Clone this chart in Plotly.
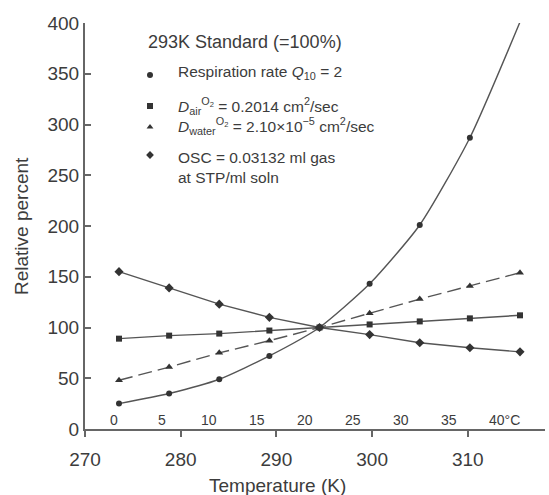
import plotly.graph_objects as go

# ---- data ----
temp_c = [0, 5, 10, 15, 20, 25, 30, 35, 40]          # °C
respiration = [25, 35, 49, 72, 100, 143, 201, 287, 401]
d_air = [89, 92, 94, 97, 100, 103, 106, 109, 112]
d_water = [48, 61, 75, 87, 100, 114, 128, 141, 154]
osc = [155, 139, 123, 110, 100, 93, 85, 80, 76]

k_ticks = [270, 280, 290, 300, 310]
c_labels = ["0", "5", "10", "15", "20", "25", "30", "35", "40°C"]

legend_title = "293K Standard (=100%)"
legend_items = [
    ("circle", "Respiration rate <i>Q</i><sub>10</sub> = 2"),
    ("square", "<i>D</i><sub>air</sub><sup>O<sub>2</sub></sup> = 0.2014 cm<sup>2</sup>/sec"),
    ("triangle-up", "<i>D</i><sub>water</sub><sup>O<sub>2</sub></sup> = 2.10×10<sup>−5</sup> cm<sup>2</sup>/sec"),
    ("diamond", "OSC = 0.03132 ml gas<br>at STP/ml soln"),
]

# ---- layout geometry ----
W, H = 549, 495
L, R, T, B = 85, 4, 23, 66
FONT = "Liberation Sans, Arial, sans-serif"
TXT = "#3c3c3c"
LINE = "#555555"
MK = "#333333"

pw = W - L - R
ph = H - T - B
def px_x(px):  # pixel -> paper
    return (px - L) / pw
def px_y(py):
    return (H - B - py) / ph

fig = go.Figure()

series = [
    (respiration, "circle", "solid", "spline", 6),
    (d_air, "square", "solid", "linear", 6),
    (d_water, "triangle-up", "14px,6px", "linear", 7),
    (osc, "diamond", "solid", "linear", 7),
]
for vals, sym, dash, shape, ms in series:
    fig.add_trace(go.Scatter(
        x=temp_c, y=vals, xaxis="x2", yaxis="y", mode="lines+markers",
        line=dict(color=LINE, width=1.4, dash=dash, shape=shape, smoothing=0.6),
        marker=dict(symbol=sym, size=ms, color=MK),
        showlegend=False, cliponaxis=False,
    ))

annotations = []
# °C labels along the K axis
for c, lab in zip(temp_c, c_labels):
    xk = 273 + c
    annotations.append(dict(
        x=xk, y=px_y(420), xref="x", yref="paper", text=lab, showarrow=False,
        xanchor="center", yanchor="middle", xshift=(8 if "°" in lab else 0),
        font=dict(family=FONT, size=14, color=TXT)))

# legend
annotations.append(dict(x=px_x(146), y=px_y(42), xref="paper", yref="paper",
                        text=legend_title, showarrow=False, xanchor="left", yanchor="middle",
                        font=dict(family=FONT, size=18, color=TXT)))
mk_y = [75, 106, 127, 155]
txt_y = [73, 106, 126, 167]
for (sym, lab), my, ty in zip(legend_items, mk_y, txt_y):
    fig.add_trace(go.Scatter(
        x=[px_x(150)], y=[px_y(my)], xaxis="x3", yaxis="y2", mode="markers",
        marker=dict(symbol=sym, size=6, color=MK), showlegend=False, cliponaxis=False))
    annotations.append(dict(x=px_x(176), y=px_y(ty), xref="paper", yref="paper",
                            text=lab, showarrow=False, xanchor="left", yanchor="middle",
                            align="left",
                            font=dict(family=FONT, size=15.5, color=TXT)))

# axis titles
annotations.append(dict(x=px_x(277), y=px_y(486), xref="paper", yref="paper",
                        text="Temperature (K)", showarrow=False, xanchor="center", yanchor="middle",
                        font=dict(family=FONT, size=19, color=TXT)))
annotations.append(dict(x=px_x(21), y=px_y(226), xref="paper", yref="paper",
                        text="Relative percent", showarrow=False, textangle=-90,
                        xanchor="center", yanchor="middle",
                        font=dict(family=FONT, size=19, color=TXT)))

k_per_px = 10 / 95.7
c_per_px = 40 / (520 - 119)

fig.update_layout(
    width=W, height=H,
    margin=dict(l=L, r=R, t=T, b=B, pad=0),
    paper_bgcolor="white", plot_bgcolor="white",
    font=dict(family=FONT, color=TXT),
    xaxis=dict(range=[270, 270 + pw * k_per_px], tickvals=k_ticks,
               ticks="outside", ticklen=6, tickcolor="#666", tickwidth=1.5,
               showline=True, linecolor="#666", linewidth=2, showgrid=False, zeroline=False,
               tickfont=dict(family=FONT, size=19, color=TXT), ticklabelstandoff=6),
    xaxis2=dict(range=[(L - 119) * c_per_px, (W - R - 119) * c_per_px],
                overlaying="x", visible=False),
    xaxis3=dict(range=[0, 1], overlaying="x", visible=False),
    yaxis=dict(range=[0, 400], tickvals=[0, 50, 100, 150, 200, 250, 300, 350, 400],
               ticks="inside", ticklen=6, tickcolor="#666", tickwidth=1.5,
               showline=True, linecolor="#666", linewidth=2, showgrid=False, zeroline=False,
               tickfont=dict(family=FONT, size=19, color=TXT), ticklabelstandoff=0),
    yaxis2=dict(range=[0, 1], overlaying="y", visible=False),
    annotations=annotations,
)

fig.write_html("out.html")
